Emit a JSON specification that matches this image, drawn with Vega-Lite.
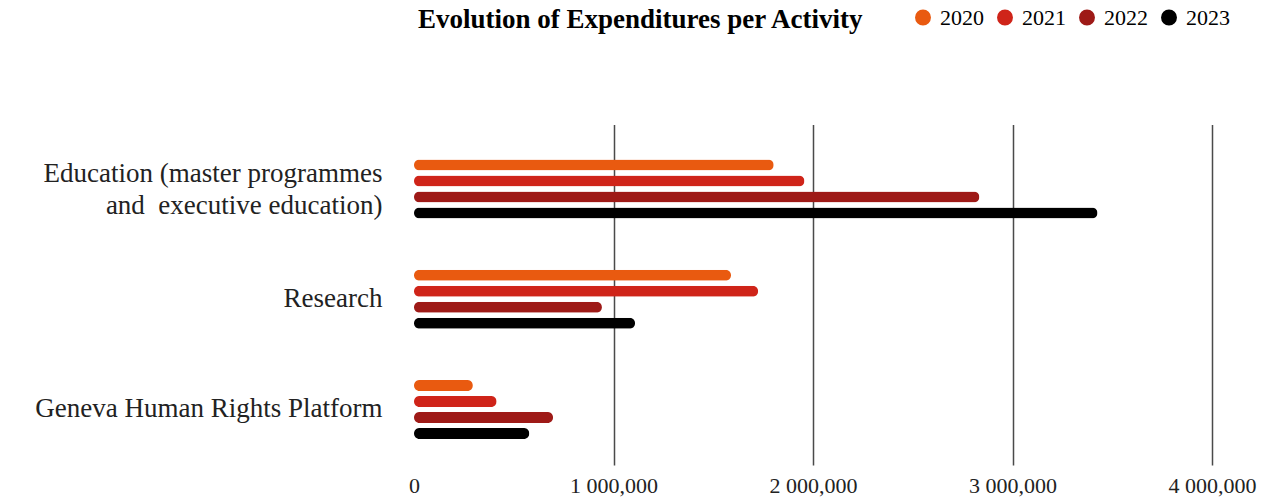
{
  "$schema": "https://vega.github.io/schema/vega-lite/v6.json",
  "autosize": {"type": "none"},
  "padding": {"left": 414, "top": 124.5, "right": 75, "bottom": 33},
  "width": 798,
  "height": 340.5,
  "background": "white",
  "title": {
    "text": "Evolution of Expenditures per Activity",
    "anchor": "start",
    "frame": "group",
    "font": "Liberation Serif",
    "fontWeight": "bold",
    "fontSize": 27,
    "color": "#000",
    "baseline": "alphabetic",
    "offset": -48,
    "dx": 4
  },
  "data": {
    "values": [
      {"activity": "Education (master programmes and executive education)", "year": "2020", "value": 1803000},
      {"activity": "Education (master programmes and executive education)", "year": "2021", "value": 1957000},
      {"activity": "Education (master programmes and executive education)", "year": "2022", "value": 2834000},
      {"activity": "Education (master programmes and executive education)", "year": "2023", "value": 3426000},
      {"activity": "Research", "year": "2020", "value": 1589000},
      {"activity": "Research", "year": "2021", "value": 1725000},
      {"activity": "Research", "year": "2022", "value": 942000},
      {"activity": "Research", "year": "2023", "value": 1108000},
      {"activity": "Geneva Human Rights Platform", "year": "2020", "value": 295000},
      {"activity": "Geneva Human Rights Platform", "year": "2021", "value": 414000},
      {"activity": "Geneva Human Rights Platform", "year": "2022", "value": 697000},
      {"activity": "Geneva Human Rights Platform", "year": "2023", "value": 578000}
    ]
  },
  "mark": {"type": "bar", "size": 11, "cornerRadius": 5.5},
  "encoding": {
    "y": {
      "field": "activity",
      "type": "nominal",
      "sort": null,
      "scale": {"paddingInner": 0.4195, "paddingOuter": 0.254, "align": 0.58},
      "axis": {
        "title": null,
        "domain": false,
        "ticks": false,
        "labelFont": "Liberation Serif",
        "labelFontSize": 27,
        "labelColor": "#222",
        "labelPadding": 32,
        "labelLimit": 0,
        "labelLineHeight": 32,
        "labelOffset": {"condition": {"test": "indexof(datum.value, 'Education') === 0", "value": -15}, "value": 0},
        "labelExpr": "datum.value == 'Education (master programmes and executive education)' ? ['Education (master programmes', 'and\u00a0 executive education)'] : datum.value"
      }
    },
    "yOffset": {
      "field": "year",
      "type": "nominal",
      "sort": ["2020", "2021", "2022", "2023"],
      "scale": {"paddingInner": 0, "paddingOuter": 0}
    },
    "x": {
      "field": "value",
      "type": "quantitative",
      "scale": {"domain": [0, 4000000], "nice": false},
      "axis": {
        "title": null,
        "values": [0, 1000000, 2000000, 3000000, 4000000],
        "domain": false,
        "ticks": false,
        "grid": true,
        "gridColor": {"condition": {"test": "datum.value === 0", "value": "transparent"}, "value": "#4a4a4a"},
        "gridWidth": 1.5,
        "labelFont": "Liberation Serif",
        "labelFontSize": 22,
        "labelColor": "#222",
        "labelBaseline": "middle",
        "labelPadding": 20,
        "labelFlush": false,
        "labelExpr": "datum.value == 0 ? '0' : format(datum.value / 1000000, 'd') + ' 000,000'"
      }
    },
    "color": {
      "field": "year",
      "type": "nominal",
      "scale": {"domain": ["2020", "2021", "2022", "2023"], "range": ["#E95A10", "#CF2419", "#9E1A17", "#000000"]},
      "legend": {
        "title": null,
        "orient": "none",
        "direction": "horizontal",
        "legendX": 498,
        "legendY": -118,
        "symbolType": "circle",
        "symbolSize": 254,
        "symbolOpacity": 1,
        "symbolStrokeWidth": 0,
        "labelFont": "Liberation Serif",
        "labelFontSize": 22,
        "labelColor": "#000",
        "labelOffset": 6,
        "columnPadding": 10
      }
    }
  },
  "config": {"view": {"stroke": null}}
}
